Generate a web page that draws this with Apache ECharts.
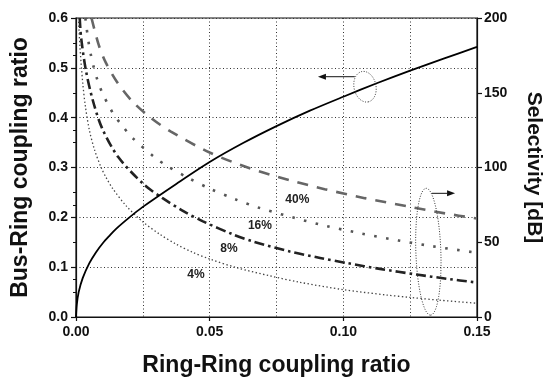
<!DOCTYPE html>
<html>
<head>
<meta charset="utf-8">
<script src="https://cdn.jsdelivr.net/npm/echarts@6/dist/echarts.min.js"></script>
<style>
html,body{margin:0;padding:0;background:#fff;}
#c{width:545px;height:381px;}
</style>
</head>
<body>
<div id="c"></div>
<script>
// ---- data ----
const xTicks = [0, 0.05, 0.10, 0.15];
const busRingX = [0, 0.0003, 0.001, 0.0025, 0.005, 0.0075, 0.01, 0.0125, 0.015, 0.02, 0.025, 0.0375, 0.05, 0.0625, 0.075, 0.0875, 0.1, 0.1125, 0.125, 0.1375, 0.15];
const busRingY = [0, 0.025, 0.05, 0.078, 0.108, 0.13, 0.148, 0.163, 0.177, 0.2, 0.221, 0.267, 0.311, 0.349, 0.383, 0.414, 0.442, 0.469, 0.4945, 0.5185, 0.542];

const sel40X = [0.0058, 0.0085, 0.0112, 0.0156, 0.0212, 0.0281, 0.0355, 0.05, 0.065, 0.08, 0.093, 0.108, 0.124, 0.138, 0.15];
const sel40Y = [200, 182, 170, 156.5, 144, 133, 124, 110, 99.5, 91.5, 85.5, 79.5, 74, 69.3, 65.9];

const sel16X = [0.0035, 0.0046, 0.0056, 0.0065, 0.0081, 0.0097, 0.0119, 0.0143, 0.0175, 0.021, 0.0293, 0.0337, 0.042, 0.0505, 0.0595, 0.0682, 0.0813, 0.0938, 0.1069, 0.1206, 0.1334, 0.15];
const sel16Y = [200, 185, 175, 168, 158, 150.5, 142.5, 135, 127.5, 120, 107, 101.5, 93, 85.5, 78.8, 73.2, 66.5, 60.8, 55.8, 51.2, 47.3, 43];

const sel8X = [0.0014, 0.0019, 0.0037, 0.0062, 0.0097, 0.0158, 0.0255, 0.0324, 0.0405, 0.0475, 0.0588, 0.0663, 0.08, 0.0913, 0.1019, 0.1137, 0.1274, 0.1387, 0.15];
const sel8Y = [200, 187, 165, 145.5, 126.5, 107, 88.5, 79.5, 70.5, 64, 55.2, 50.5, 43.8, 39.5, 35.9, 32.2, 28.4, 25.6, 23];

const sel4X = [0.0009, 0.0015, 0.0025, 0.0035, 0.005, 0.0069, 0.0094, 0.0112, 0.0137, 0.0187, 0.025, 0.0312, 0.0374, 0.0436, 0.05, 0.0601, 0.0726, 0.0838, 0.1, 0.1162, 0.125, 0.1362, 0.15];
const sel4Y = [200, 180, 157, 141, 125, 112, 100, 93.5, 86, 74.5, 63.7, 55.5, 48.8, 43.3, 38.8, 33, 27.5, 23.2, 18.3, 14.7, 13.1, 11.2, 9.2];

const curveLabels = ['40%', '16%', '8%', '4%'];
const curveLabelX = [0.0828, 0.0688, 0.0572, 0.0449];
const curveLabelY = [0.2348, 0.1826, 0.1375, 0.0843]; // in left-axis units

const FONT = 'Liberation Sans, Arial, Helvetica, sans-serif';
const zip = (a, b) => a.map((v, i) => [v, b[i]]);

const chart = echarts.init(document.getElementById('c'), null, {renderer: 'canvas'});

const gridDot = {color: '#333', width: 1, type: [1, 2.5]};
const tickFont = {fontFamily: FONT, fontWeight: 'bold', fontSize: 14, color: '#111'};

chart.setOption({
  animation: false,
  backgroundColor: '#fff',
  grid: {left: 76, right: 68, top: 18, bottom: 64, containLabel: false, show: true, borderColor: '#111', borderWidth: 1.2, backgroundColor: 'transparent', outerBoundsMode: 'none'},
  xAxis: [{
    type: 'value', min: 0, max: 0.15, interval: 0.05,
    name: 'Ring-Ring coupling ratio', nameLocation: 'middle', nameGap: 37,
    nameTextStyle: {fontFamily: FONT, fontWeight: 'bold', fontSize: 23, color: '#111'},
    axisLine: {show: true, onZero: false, lineStyle: {color: '#111', width: 1.2}},
    axisTick: {show: true, inside: false, length: 4, lineStyle: {color: '#111', width: 1.2}},
    minorTick: {show: false, splitNumber: 2},
    axisLabel: Object.assign({margin: 8,
      formatter: v => xTicks.some(t => Math.abs(t - v) < 1e-9) ? v.toFixed(2) : ''}, tickFont),
    splitLine: {show: true, lineStyle: gridDot},
    minorSplitLine: {show: true, lineStyle: gridDot}
  }],
  yAxis: [{
    type: 'value', min: 0, max: 0.6, interval: 0.1, position: 'left',
    name: 'Bus-Ring coupling ratio', nameLocation: 'middle', nameGap: 44,
    nameTextStyle: {fontFamily: FONT, fontWeight: 'bold', fontSize: 23, color: '#111'},
    axisLine: {show: true, onZero: false, lineStyle: {color: '#111', width: 1.2}},
    axisTick: {show: true, inside: false, length: 5, lineStyle: {color: '#111', width: 1.2}},
    minorTick: {show: true, splitNumber: 2, length: 3, lineStyle: {color: '#111', width: 1}},
    axisLabel: Object.assign({margin: 8, formatter: v => v.toFixed(1)}, tickFont),
    splitLine: {show: true, lineStyle: gridDot}
  }, {
    type: 'value', min: 0, max: 200, interval: 50, position: 'right',
    name: 'Selectivity [dB]', nameLocation: 'middle', nameGap: 46, nameRotate: -90,
    nameTextStyle: {fontFamily: FONT, fontWeight: 'bold', fontSize: 21, color: '#111'},
    axisLine: {show: true, onZero: false, lineStyle: {color: '#111', width: 1.2}},
    axisTick: {show: true, inside: false, length: 5, lineStyle: {color: '#111', width: 1.2}},
    axisLabel: Object.assign({margin: 7}, tickFont),
    splitLine: {show: false}
  }, {
    type: 'value', min: 0, max: 200, interval: 25, position: 'right',
    axisLine: {show: false},
    axisTick: {show: true, inside: true, length: 3, lineStyle: {color: '#111', width: 1}},
    axisLabel: {show: false},
    splitLine: {show: false}
  }],
  series: [
    {name: 'Bus-Ring', type: 'line', xAxisIndex: 0, yAxisIndex: 0, data: zip(busRingX, busRingY),
      symbol: 'none', smooth: 0.3, z: 5,
      lineStyle: {color: '#000', width: 1.8}},
    {name: '40%', type: 'line', xAxisIndex: 0, yAxisIndex: 1, data: zip(sel40X, sel40Y),
      symbol: 'none', smooth: 0.3, z: 4,
      lineStyle: {color: '#666', width: 2.6, type: [11, 9]}},
    {name: '16%', type: 'line', xAxisIndex: 0, yAxisIndex: 1, data: zip(sel16X, sel16Y),
      symbol: 'none', smooth: 0.3, z: 4,
      lineStyle: {color: '#555', width: 2.6, type: [2.6, 9.4]}},
    {name: '8%', type: 'line', xAxisIndex: 0, yAxisIndex: 1, data: zip(sel8X, sel8Y),
      symbol: 'none', smooth: 0.3, z: 4,
      lineStyle: {color: '#222', width: 2.6, type: [10, 4, 2.6, 4]}},
    {name: '4%', type: 'line', xAxisIndex: 0, yAxisIndex: 1, data: zip(sel4X, sel4Y),
      symbol: 'none', smooth: 0.3, z: 4,
      lineStyle: {color: '#444', width: 1.3, type: [1.4, 2.4]}}
  ]
});

// ---- annotations, placed through the axes ----
const toPx = (x, y) => chart.convertToPixel({xAxisIndex: 0, yAxisIndex: 0}, [x, y]);

function ellipsePoints(cx, cy, a, b, tiltDeg) {
  const pts = [];
  const t = tiltDeg * Math.PI / 180;
  const ux = Math.sin(t), uy = Math.cos(t);   // major axis direction (mostly vertical)
  const vx = Math.cos(t), vy = -Math.sin(t);  // minor axis direction
  for (let i = 0; i <= 72; i++) {
    const s = i / 72 * Math.PI * 2;
    pts.push([cx + a * Math.cos(s) * ux + b * Math.sin(s) * vx,
              cy + a * Math.cos(s) * uy + b * Math.sin(s) * vy]);
  }
  return pts;
}
function arrow(p0, p1) {
  const dx = p1[0] - p0[0], dy = p1[1] - p0[1];
  const L = Math.hypot(dx, dy), ux = dx / L, uy = dy / L;
  const hl = 8, hw = 3;
  const base = [p1[0] - ux * hl, p1[1] - uy * hl];
  return [
    {type: 'line', shape: {x1: p0[0], y1: p0[1], x2: base[0], y2: base[1]}, style: {stroke: '#111', lineWidth: 1}, z: 10},
    {type: 'polygon', shape: {points: [p1, [base[0] - uy * hw, base[1] + ux * hw], [base[0] + uy * hw, base[1] - ux * hw]]}, style: {fill: '#111'}, z: 10}
  ];
}

const e1 = toPx(0.1081, 0.4621);
const e2 = toPx(0.1318, 0.131);
const a1s = toPx(0.1043, 0.4822), a1e = toPx(0.0905, 0.4822);
const a2s = toPx(0.1331, 0.2482), a2e = toPx(0.1418, 0.2482);

const graphics = [
  {type: 'polyline', shape: {points: ellipsePoints(e1[0], e1[1], 15.5, 11, 12)}, style: {stroke: '#333', lineWidth: 1, lineDash: [1, 1.6], fill: null}, z: 10},
  {type: 'polyline', shape: {points: ellipsePoints(e2[0], e2[1], 63.5, 12.5, 2)}, style: {stroke: '#333', lineWidth: 1, lineDash: [1, 1.6], fill: null}, z: 10},
  ...arrow(a1s, a1e),
  ...arrow(a2s, a2e)
];
curveLabels.forEach((t, i) => {
  const p = toPx(curveLabelX[i], curveLabelY[i]);
  graphics.push({type: 'text', x: p[0], y: p[1], z: 10,
    style: {text: t, fill: '#222', font: 'bold 12px ' + FONT, textAlign: 'center', textVerticalAlign: 'middle'}});
});
chart.setOption({graphic: graphics});
</script>
</body>
</html>
